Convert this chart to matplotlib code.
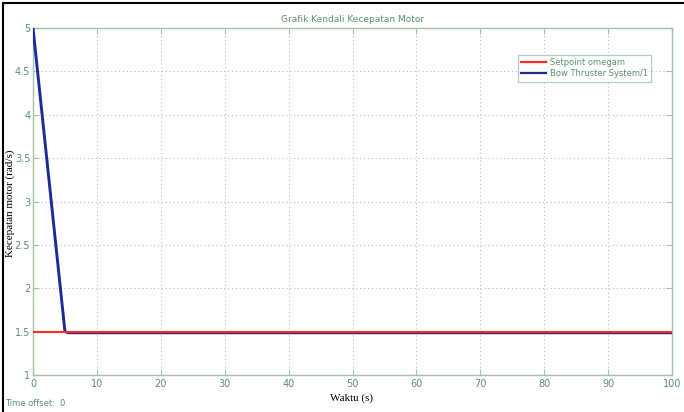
import matplotlib
matplotlib.use("Agg")
import matplotlib.pyplot as plt
from matplotlib.lines import Line2D

# Data
title = "Grafik Kendali Kecepatan Motor"
xlabel = "Waktu (s)"
ylabel = "Kecepatan motor (rad/s)"
setpoint_t = [0, 100]
setpoint_val = [1.5, 1.5]
response_t = [0, 5, 5.5, 100]
response_val = [5.0, 1.5, 1.487, 1.487]
series_names = ["Setpoint omegam", "Bow Thruster System/1"]
xticks = [0, 10, 20, 30, 40, 50, 60, 70, 80, 90, 100]
yticks = [1, 1.5, 2, 2.5, 3, 3.5, 4, 4.5, 5]
ytick_labels = ["1", "1.5", "2", "2.5", "3", "3.5", "4", "4.5", "5"]

W, H = 684, 412
fig = plt.figure(figsize=(W / 100, H / 100), dpi=100)
fig.patch.set_facecolor("white")

green_txt = "#5a9070"
spine_col = "#a3c2ac"
grid_col = "#b8c0ba"

ax = fig.add_axes([33 / W, 1 - 375 / H, (672 - 33) / W, (375 - 28) / H])
ax.plot(response_t, response_val, color="#1c2a96", lw=2.1, label=series_names[1], zorder=3)
ax.plot(setpoint_t, setpoint_val, color="#ff2a2a", lw=1.5, label=series_names[0], zorder=4)

ax.set_xlim(0, 100)
ax.set_ylim(1, 5)
ax.set_xticks(xticks)
ax.set_yticks(yticks)
ax.set_yticklabels(ytick_labels)
ax.tick_params(direction="in", top=True, right=True, length=4, width=0.8,
               color=spine_col, labelcolor=green_txt, labelsize=7, pad=3)
ax.tick_params(axis="y", pad=2)
for s in ax.spines.values():
    s.set_color(spine_col)
    s.set_linewidth(1.0)
ax.grid(True, linestyle=(0, (1, 2.5)), color=grid_col, lw=0.8)

ax.set_title(title, fontsize=6.5, color=green_txt, pad=4)
ax.set_xlabel(xlabel, family="Liberation Serif", fontsize=8, color="black")
ax.set_ylabel(ylabel, family="Liberation Serif", fontsize=8, color="black")
ax.xaxis.set_label_coords((352 - 33) / (672 - 33), -(398 - 375) / (375 - 28), transform=ax.transAxes)
ax.yaxis.set_label_coords(-(33 - 10) / (672 - 33), (375 - 203) / (375 - 28), transform=ax.transAxes)
ax.xaxis.label.set_va("center")
ax.yaxis.label.set_va("center")

handles = [Line2D([], [], color="#ff2a2a", lw=1.6), Line2D([], [], color="#1c2a96", lw=1.6)]
leg = ax.legend(handles, series_names, loc="upper right", bbox_to_anchor=(651 / W, 1 - 55 / H),
                bbox_transform=fig.transFigure, fontsize=6.0, frameon=True, fancybox=False,
                handlelength=3.0, handletextpad=0.4, borderpad=0.4, labelspacing=0.25,
                borderaxespad=0)
leg.get_frame().set_edgecolor(spine_col)
leg.get_frame().set_linewidth(0.9)
for t in leg.get_texts():
    t.set_color(green_txt)

fig.text(5 / W, 1 - 404 / H, "Time offset:  0", fontsize=6, color=green_txt, va="center")

# screenshot frame (left and top)
fig.add_artist(Line2D([3 / W, 3 / W], [0, 1 - 3 / H], color="black", lw=1.5, transform=fig.transFigure))
fig.add_artist(Line2D([3 / W, 1], [1 - 3 / H, 1 - 3 / H], color="black", lw=1.5, transform=fig.transFigure))

fig.savefig("out.png", dpi=100)
